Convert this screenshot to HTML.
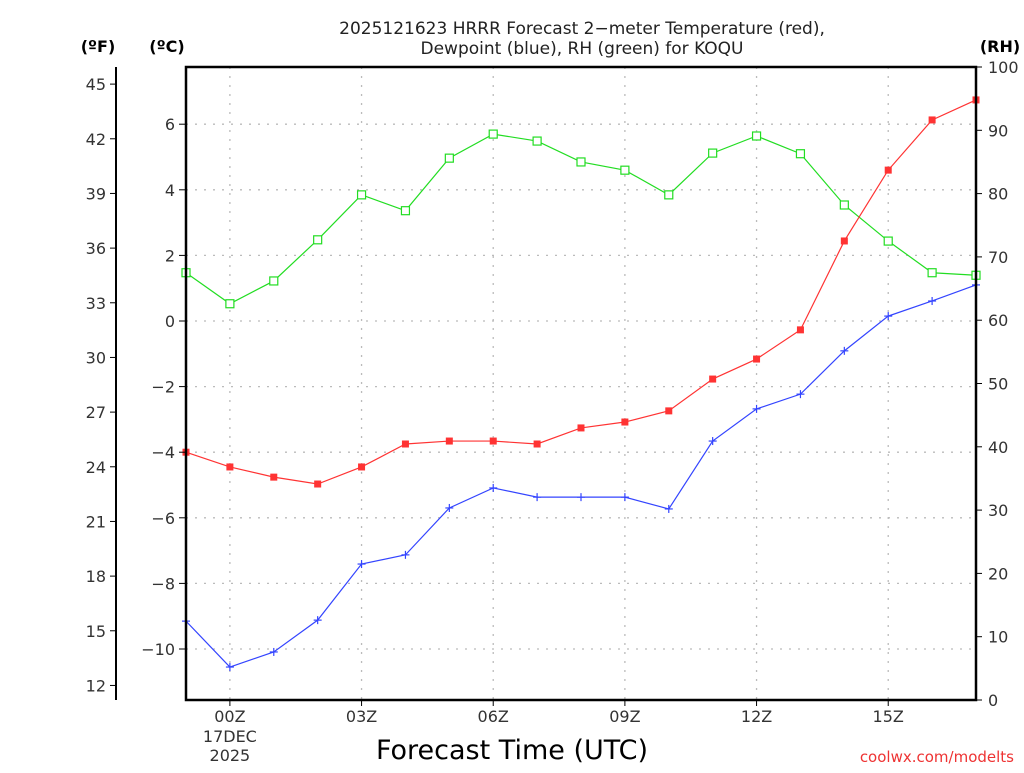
<!DOCTYPE html>
<html><head><meta charset="utf-8"><style>
body{margin:0;background:#fff;width:1024px;height:768px;overflow:hidden}
svg text{font-family:"DejaVu Sans","Liberation Sans",sans-serif}
</style></head><body>
<svg id="c" width="1024" height="768"></svg>
<script>
const hours=[-1,0,1,2,3,4,5,6,7,8,9,10,11,12,13,14,15,16,17];
const tempC=[-4.0,-4.45,-4.76,-4.97,-4.45,-3.75,-3.66,-3.66,-3.75,-3.26,-3.08,-2.74,-1.77,-1.16,-0.27,2.44,4.60,6.13,6.74];
const dewC=[-9.15,-10.55,-10.09,-9.12,-7.41,-7.13,-5.70,-5.09,-5.37,-5.37,-5.37,-5.73,-3.66,-2.68,-2.23,-0.91,0.15,0.61,1.10];
const rh=[67.5,62.6,66.2,72.7,79.8,77.3,85.6,89.4,88.3,85.0,83.7,79.8,86.4,89.1,86.3,78.2,72.5,67.5,67.1];
const xTicks=[0,3,6,9,12,15];
const xLabels=["00Z","03Z","06Z","09Z","12Z","15Z"];
const cTicks=[-10,-8,-6,-4,-2,0,2,4,6];
const fTicks=[12,15,18,21,24,27,30,33,36,39,42,45];
const rhTicks=[0,10,20,30,40,50,60,70,80,90,100];

const L=186,R=976,T=67,B=700;
const X=h=>L+(h+1)*(R-L)/18;
const YC=c=>321-c*32.8;
const YF=f=>YC((f-32)*5/9);
const YRH=v=>B-v*(B-T)/100;
const svg=document.getElementById('c');
const NS='http://www.w3.org/2000/svg';
function mk(tag,attrs,parent){const e=document.createElementNS(NS,tag);for(const k in attrs)e.setAttribute(k,attrs[k]);(parent||svg).appendChild(e);return e;}
function txt(x,y,s,o){const e=mk('text',Object.assign({x:x,y:y,'font-size':16,fill:'#000'},o||{}));e.textContent=s;return e;}

// grid
const grid=mk('g',{stroke:'#bbb','stroke-width':1.3,'stroke-dasharray':'2,7'});


xTicks.forEach(h=>mk('line',{x1:X(h),x2:X(h),y1:T,y2:B},grid));
cTicks.forEach(c=>mk('line',{x1:L,x2:R,y1:YC(c),y2:YC(c)},grid));

// series
function series(vals,yf,color,marker,name){
  const g=mk('g',{});
  
  
  mk('polyline',{points:hours.map((h,i)=>X(h)+','+yf(vals[i])).join(' '),fill:'none',stroke:color,'stroke-width':1.2},g);
  hours.forEach((h,i)=>{const x=X(h),y=yf(vals[i]);
    if(marker==='sq')mk('rect',{x:x-3.5,y:y-3.5,width:7,height:7,fill:color},g);
    else if(marker==='osq')mk('rect',{x:x-4,y:y-4,width:8,height:8,fill:'#fff',stroke:color,'stroke-width':1.2},g);
    else{mk('line',{x1:x-4,x2:x+4,y1:y,y2:y,stroke:color,'stroke-width':1.2},g);mk('line',{x1:x,x2:x,y1:y-4,y2:y+4,stroke:color,'stroke-width':1.2},g);}
  });
}
series(rh,YRH,'#22dd22','osq','rh-series');
series(tempC,YC,'#ff3333','sq','temperature-series');
series(dewC,YC,'#3344ff','plus','dewpoint-series');

// frame
const fr=mk('rect',{x:L,y:T,width:R-L,height:B-T,fill:'none',stroke:'#000','stroke-width':2.5});


const fl=mk('line',{x1:116,x2:116,y1:67,y2:700,stroke:'#000','stroke-width':2});



const ax={fill:'#333'};
cTicks.forEach(c=>{mk('line',{x1:L-7,x2:L,y1:YC(c),y2:YC(c),stroke:'#000'});txt(L-11,YC(c)+6,c<0?'\u2212'+(-c):''+c,Object.assign({'text-anchor':'end'},ax));});
fTicks.forEach(f=>{mk('line',{x1:110,x2:116,y1:YF(f),y2:YF(f),stroke:'#000'});txt(106,YF(f)+6,''+f,Object.assign({'text-anchor':'end'},ax));});
rhTicks.forEach(v=>{mk('line',{x1:R,x2:R+6,y1:YRH(v),y2:YRH(v),stroke:'#000'});txt(R+12,YRH(v)+6,''+v,ax);});
xTicks.forEach((h,i)=>{mk('line',{x1:X(h),x2:X(h),y1:B,y2:B+6,stroke:'#000'});txt(X(h),722,xLabels[i],Object.assign({'text-anchor':'middle'},ax));});
txt(X(0),742,'17DEC',Object.assign({'text-anchor':'middle'},ax));
txt(X(0),761,'2025',Object.assign({'text-anchor':'middle'},ax));

txt(98,52,'(ºF)',{'text-anchor':'middle','font-weight':'bold'});
txt(167,52,'(ºC)',{'text-anchor':'middle','font-weight':'bold'});
txt(1000,52,'(RH)',{'text-anchor':'middle','font-weight':'bold'});
const t1=txt(582,34,'2025121623 HRRR Forecast 2\u2212meter Temperature (red),',{'text-anchor':'middle','font-size':17,fill:'#222'});


txt(582,54,'Dewpoint (blue), RH (green) for KOQU',{'text-anchor':'middle','font-size':17,fill:'#222'});
const xt=txt(512,759,'Forecast Time (UTC)',{'text-anchor':'middle','font-size':27});


const cr=txt(1014,762,'coolwx.com/modelts',{'text-anchor':'end','font-size':15,fill:'#ee3333'});


</script>
</body></html>
